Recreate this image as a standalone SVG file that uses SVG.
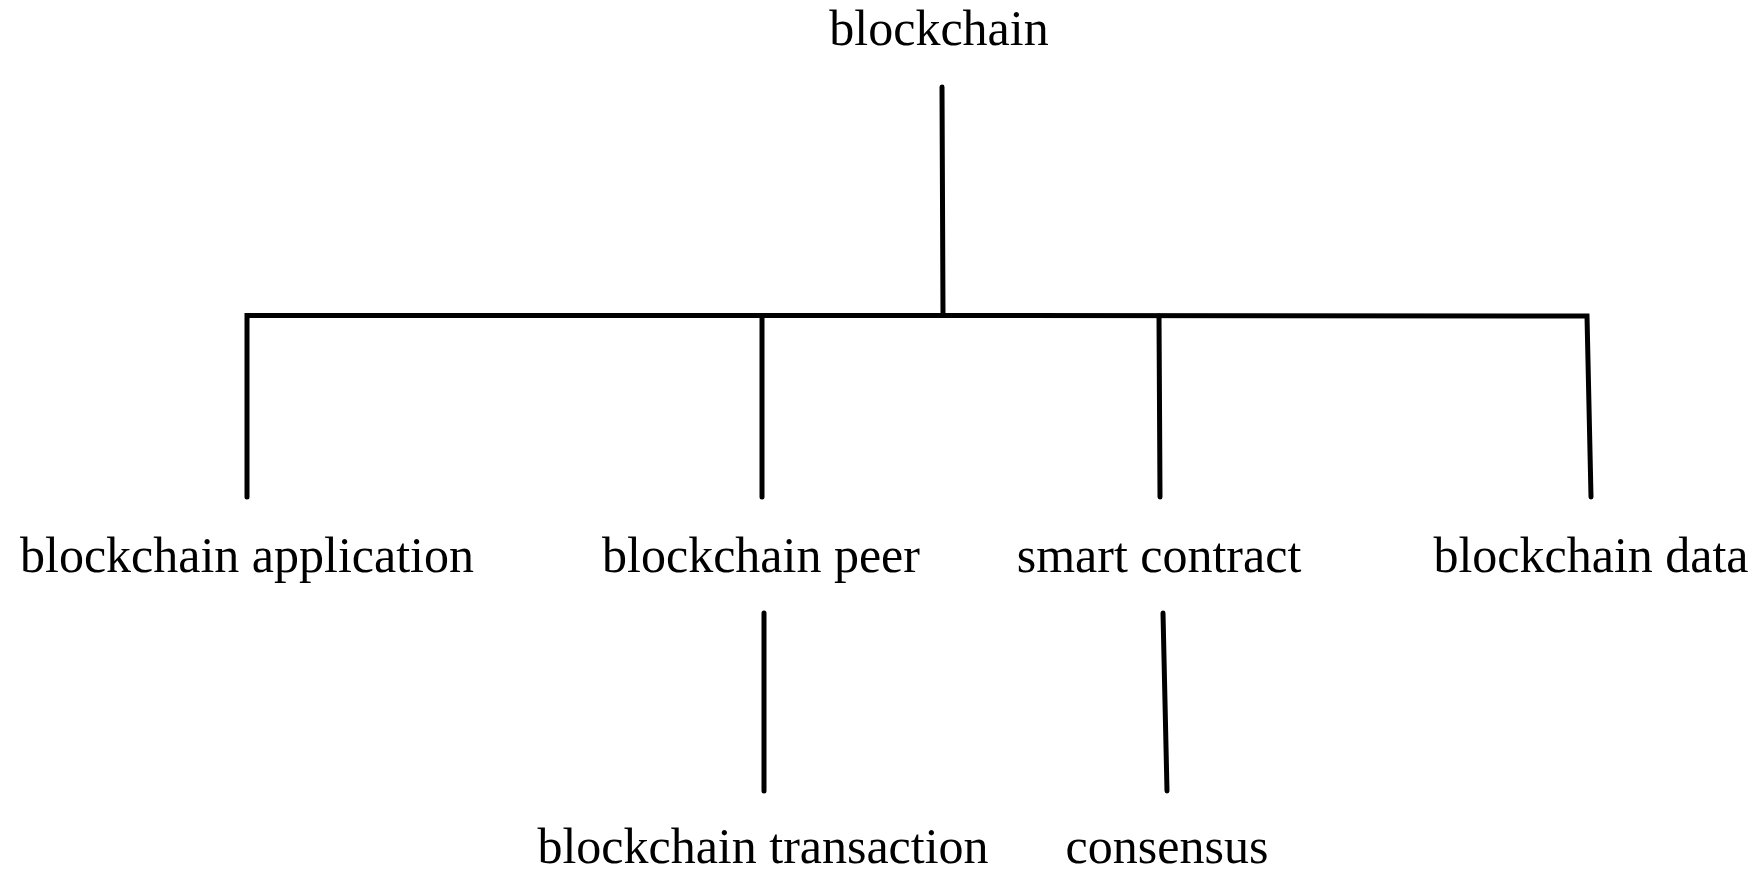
<svg xmlns="http://www.w3.org/2000/svg" width="1760" height="871" viewBox="0 0 1760 871">
  <style>
    .label { font-family: "Liberation Serif", "Times New Roman", serif; font-size: 50px; fill: #000; text-anchor: middle; }
    .edge { stroke: #000; stroke-width: 5; fill: none; stroke-linecap: round; stroke-linejoin: miter; }
  </style>
  <rect width="1760" height="871" fill="#fff"/>

  <g id="connectors">
    <!-- root stem -->
    <line class="edge" x1="942" y1="87" x2="943" y2="315"/>
    <!-- bus line with drops to the second level -->
    <path class="edge" d="M247,497 L247,315.5 L917,315.5 L1587,316 L1591,497"/>
    <line class="edge" x1="762" y1="315.5" x2="762" y2="497"/>
    <line class="edge" x1="1159" y1="316" x2="1160" y2="497"/>
    <!-- third level -->
    <line class="edge" x1="764" y1="613" x2="764" y2="791"/>
    <line class="edge" x1="1163" y1="613" x2="1167" y2="791"/>
  </g>

  <g id="node-blockchain"><text class="label" x="939" y="45">blockchain</text></g>
  <g id="node-application"><text class="label" x="247" y="572">blockchain application</text></g>
  <g id="node-peer"><text class="label" x="761" y="572">blockchain peer</text></g>
  <g id="node-smart-contract"><text class="label" x="1159" y="572">smart contract</text></g>
  <g id="node-data"><text class="label" x="1591" y="572">blockchain data</text></g>
  <g id="node-transaction"><text class="label" x="763" y="863">blockchain transaction</text></g>
  <g id="node-consensus"><text class="label" x="1167" y="863">consensus</text></g>
</svg>
